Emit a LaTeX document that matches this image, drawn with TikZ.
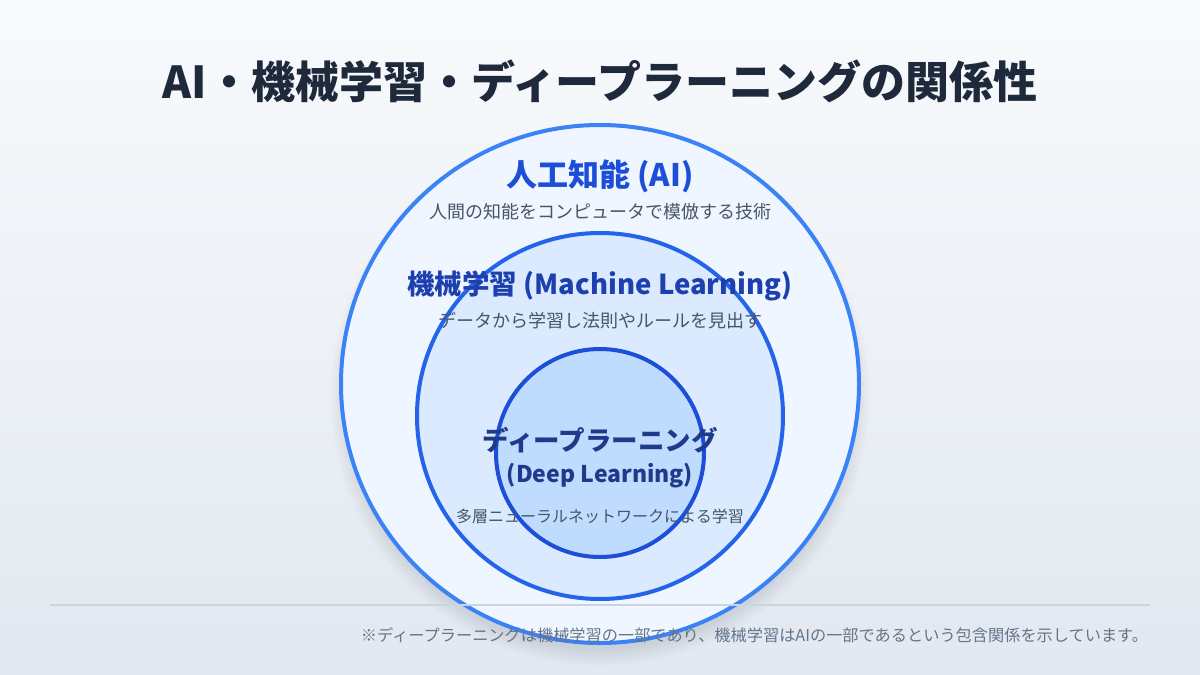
\documentclass[tikz,border=0pt]{standalone}
\usepackage{fontspec}
\setmainfont{Noto Sans CJK JP}
\usetikzlibrary{positioning}

\definecolor{bgtop}{HTML}{F8FAFC}
\definecolor{bgbot}{HTML}{E2E8F0}
\definecolor{titlecol}{HTML}{1E293B}
\definecolor{aiedge}{HTML}{3B82F6}
\definecolor{aifill}{HTML}{EFF6FF}
\definecolor{mledge}{HTML}{2563EB}
\definecolor{mlfill}{HTML}{DBEAFE}
\definecolor{dledge}{HTML}{1D4ED8}
\definecolor{dlfill}{HTML}{BFDBFE}
\definecolor{aitext}{HTML}{1D4ED8}
\definecolor{mltext}{HTML}{1E40AF}
\definecolor{dltext}{HTML}{1E3A8A}
\definecolor{subtext}{HTML}{475569}
\definecolor{notetext}{HTML}{64748B}
\definecolor{rulecol}{HTML}{CBD5E1}

\tikzset{
  head/.style = {font=\fontsize{#1}{#1}\selectfont\bfseries, inner sep=0pt},
  subline/.style = {font=\fontsize{#1}{#1}\selectfont, text=subtext, inner sep=0pt}
}

\begin{document}
\begin{tikzpicture}[x=1pt, y=-1pt, line width=4pt]
\useasboundingbox (0,0) rectangle (1200,675);
\shade[top color=bgtop, bottom color=bgbot] (0,0) rectangle (1200,675);
% soft shadow under the big circle
\foreach \i in {1,...,12}
  \fill[black, opacity=0.007] (600,396) circle (252+1.5*\i);
% the three sets
\filldraw[draw=aiedge, fill=aifill] (600,384) circle (259);
\filldraw[draw=mledge, fill=mlfill] (600,416) circle (183);
\filldraw[draw=dledge, fill=dlfill] (600,453) circle (104);
% labels
\node[head=44, text=titlecol] (title) at (600,81) {AI・機械学習・ディープラーニングの関係性};
\node[head=31, text=aitext] (ai) at (600,176) {人工知能 (AI)};
\node[subline=18] (aisub) at (600,212) {人間の知能をコンピュータで模倣する技術};
\node[head=27.5, text=mltext] (ml) at (600,286) {機械学習 (Machine Learning)};
\node[subline=18] (mlsub) at (600,321) {データから学習し法則やルールを見出す};
\node[head=26.5, text=dltext] (dl) at (600,440) {ディープラーニング};
\node[head=23, text=dltext] (dleng) at (600,476) {(Deep Learning)};
\node[subline=16] (dlsub) at (600,516) {多層ニューラルネットワークによる学習};
% footer
\coordinate (rulel) at (50,605);
\coordinate (ruler) at (1150,605);
\draw[rulecol, line width=1.5pt] (rulel) -- (ruler);
\node[subline=16.2, text=notetext, anchor=east] (note) at (1150,635)
  {※ディープラーニングは機械学習の一部であり、機械学習はAIの一部であるという包含関係を示しています。};
\end{tikzpicture}
\end{document}
